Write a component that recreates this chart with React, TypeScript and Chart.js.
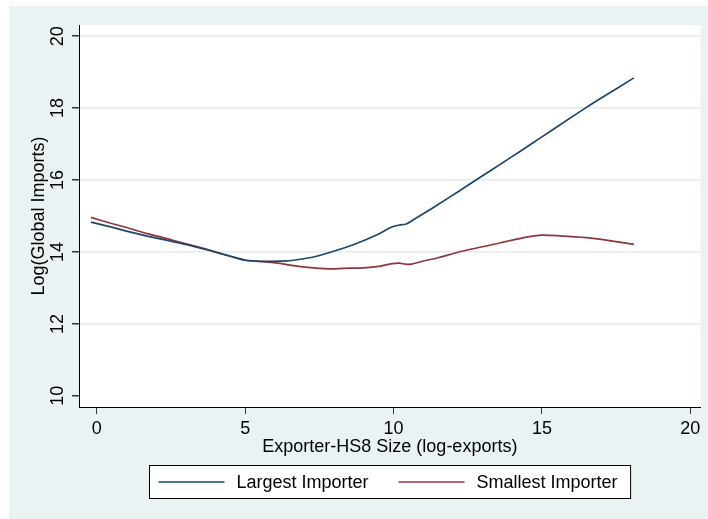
import { useEffect, useRef } from 'react';
import { Chart, registerables } from 'chart.js';

Chart.register(...registerables);

// ---- data ----
const xValues = [-0.2, 0.5, 1, 1.7, 2.5, 3, 3.8, 4.5, 5, 5.5, 5.9, 6.4, 6.8, 7.3, 7.9, 8.5, 9, 9.5, 9.9, 10.2, 10.4, 10.6, 11, 11.5, 12.2, 13.3, 14.4, 15, 15.6, 16.5, 17, 18.1];
const largestImporter = [14.83, 14.69, 14.58, 14.44, 14.3, 14.21, 14.04, 13.88, 13.77, 13.74, 13.74, 13.75, 13.79, 13.86, 14.0, 14.16, 14.32, 14.5, 14.68, 14.75, 14.77, 14.86, 15.06, 15.32, 15.69, 16.28, 16.87, 17.2, 17.53, 18.02, 18.28, 18.84];
const smallestImporter = [14.96, 14.79, 14.68, 14.51, 14.34, 14.23, 14.05, 13.88, 13.77, 13.74, 13.71, 13.65, 13.6, 13.56, 13.53, 13.55, 13.56, 13.6, 13.67, 13.69, 13.66, 13.66, 13.75, 13.84, 14.0, 14.2, 14.4, 14.47, 14.45, 14.4, 14.35, 14.21];
const seriesLabels = ['Largest Importer', 'Smallest Importer'];
const seriesColors = ['#1a476f', '#90353b'];
const xTicks = [0, 5, 10, 15, 20];
const yTicks = [10, 12, 14, 16, 18, 20];
const xTitle = 'Exporter-HS8 Size (log-exports)';
const yTitle = 'Log(Global Imports)';

const FONT = '"Liberation Sans", Arial, Helvetica, sans-serif';
const PANEL = '#eaf2f3';
const GRID = '#e2ecee';

const backgroundPlugin = {
  id: 'stataBackground',
  beforeDraw(chart: any) {
    const { ctx, chartArea, width, height } = chart;
    ctx.save();
    ctx.fillStyle = '#ffffff';
    ctx.fillRect(0, 0, width, height);
    ctx.fillStyle = PANEL;
    ctx.fillRect(9, 6, width - 9, height - 6);
    ctx.fillStyle = '#ffffff';
    ctx.fillRect(chartArea.left, chartArea.top, chartArea.right - chartArea.left, chartArea.bottom - chartArea.top);
    ctx.restore();
  },
};

const boxLegendPlugin = {
  id: 'boxLegend',
  afterDraw(chart: any) {
    const { ctx, chartArea } = chart;
    ctx.save();
    ctx.font = `18px ${FONT}`;
    const lineLen = 66;
    const padL = 9;
    const gap = 12;
    const between = 30;
    const padR = 13;
    const items = chart.data.datasets.map((ds: any) => ({
      label: ds.label as string,
      color: ds.borderColor as string,
      w: ctx.measureText(ds.label).width,
    }));
    let total = padL + padR;
    items.forEach((it: any, i: number) => {
      total += lineLen + gap + it.w + (i > 0 ? between : 0);
    });
    const cx = (chartArea.left + chartArea.right) / 2;
    const left = Math.round(cx - total / 2) + 0.5;
    const top = chartArea.bottom + 58.5;
    const h = 33;
    ctx.fillStyle = '#ffffff';
    ctx.fillRect(left, top, total, h);
    ctx.strokeStyle = '#000000';
    ctx.lineWidth = 1;
    ctx.strokeRect(left, top, total, h);
    const cy = top + h / 2;
    let x = left + padL;
    items.forEach((it: any, i: number) => {
      if (i > 0) x += between;
      ctx.strokeStyle = it.color;
      ctx.lineWidth = 1.6;
      ctx.beginPath();
      ctx.moveTo(x, cy);
      ctx.lineTo(x + lineLen, cy);
      ctx.stroke();
      x += lineLen + gap;
      ctx.fillStyle = '#000000';
      ctx.textAlign = 'left';
      ctx.textBaseline = 'middle';
      ctx.fillText(it.label, x, cy + 1);
      x += it.w;
    });
    ctx.restore();
  },
};

export default function App() {
  const ref = useRef<HTMLCanvasElement>(null);

  useEffect(() => {
    document.body.style.margin = '0';
    const canvas = ref.current;
    if (!canvas) return;
    Chart.defaults.font.family = FONT;
    const series = [largestImporter, smallestImporter];
    const chart = new Chart(canvas, {
      type: 'line',
      data: {
        datasets: series.map((vals, i) => ({
          label: seriesLabels[i],
          data: xValues.map((x, j) => ({ x, y: vals[j] })),
          borderColor: seriesColors[i],
          backgroundColor: seriesColors[i],
          borderWidth: 1.7,
          pointRadius: 0,
          tension: 0.2,
          fill: false,
        })),
      },
      options: {
        responsive: false,
        animation: false,
        devicePixelRatio: 1,
        layout: { padding: { left: 20, right: 7.3, top: 25, bottom: 52 } },
        plugins: {
          legend: { display: false },
          tooltip: { enabled: false },
          title: { display: false },
        },
        scales: {
          x: {
            type: 'linear',
            min: -0.6,
            max: 20.35,
            afterBuildTicks: (s: any) => {
              s.ticks = xTicks.map((v) => ({ value: v }));
            },
            afterFit: (s: any) => {
              s.height = 60;
            },
            grid: { drawOnChartArea: false, tickLength: 7, tickColor: '#333333', lineWidth: 1 },
            border: { display: true, color: '#000000', width: 1 },
            ticks: { padding: 4, color: '#000000', font: { size: 18 }, maxRotation: 0, autoSkip: false },
            title: { display: true, text: xTitle, color: '#000000', font: { size: 18 }, padding: { top: 0, bottom: 9 } },
          },
          y: {
            type: 'linear',
            min: 9.69,
            max: 20.31,
            afterBuildTicks: (s: any) => {
              s.ticks = yTicks.map((v) => ({ value: v }));
            },
            afterFit: (s: any) => {
              s.width = 59;
            },
            grid: {
              color: (c: any) => (c.tick && c.tick.value === yTicks[0] ? 'rgba(0,0,0,0)' : GRID),
              lineWidth: 1.5,
              tickLength: 7,
              tickColor: '#333333',
            },
            border: { display: true, color: '#000000', width: 1 },
            ticks: {
              padding: 4,
              color: '#000000',
              font: { size: 18 },
              minRotation: 90,
              maxRotation: 90,
              crossAlign: 'center',
              autoSkip: false,
            },
            title: { display: true, text: yTitle, color: '#000000', font: { size: 18 }, padding: { top: 8, bottom: 0 } },
          },
        },
      },
      plugins: [backgroundPlugin, boxLegendPlugin],
    } as any);
    return () => chart.destroy();
  }, []);

  return (
    <canvas
      ref={ref}
      width={708}
      height={519}
      style={{ display: 'block', width: 708, height: 519 }}
    />
  );
}
